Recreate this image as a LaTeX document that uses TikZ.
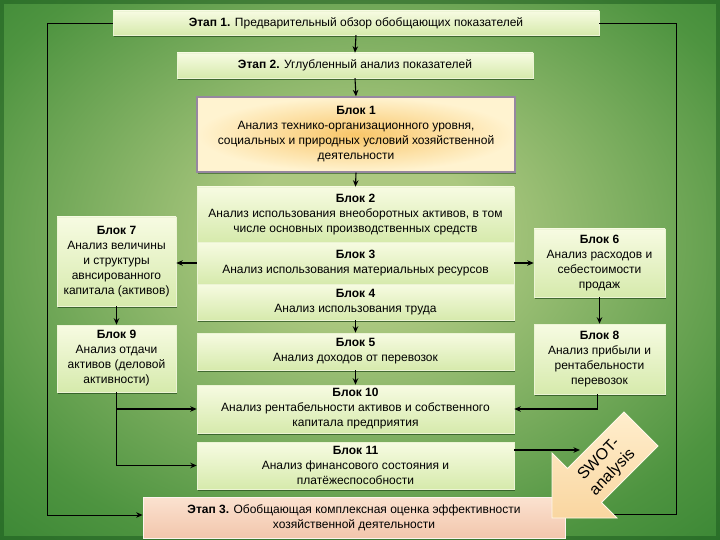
\documentclass[tikz,border=0pt]{standalone}
\usepackage{fontspec}
\setmainfont{Liberation Sans}
\usetikzlibrary{arrows.meta,shadows,calc}

\definecolor{bgin}{RGB}{172,200,128}
\definecolor{bgmid}{RGB}{78,148,64}
\definecolor{bgout}{RGB}{34,118,38}
\definecolor{gtop}{RGB}{247,251,226}
\definecolor{gbot}{RGB}{214,234,172}
\definecolor{gedge}{RGB}{236,244,212}
\definecolor{shadowc}{RGB}{40,80,30}
\definecolor{otop}{RGB}{249,198,105}
\definecolor{obot}{RGB}{255,243,208}
\definecolor{oedge}{RGB}{150,135,160}
\definecolor{ptop}{RGB}{251,226,208}
\definecolor{pbot}{RGB}{242,198,172}
\definecolor{swa}{RGB}{255,238,205}
\definecolor{swb}{RGB}{249,214,160}

\pgfdeclareradialshading{bgshade}{\pgfpoint{0bp}{4bp}}{color(0bp)=(bgin); color(8bp)=(bgin); color(30bp)=(bgmid); color(47bp)=(bgout); color(72bp)=(bgout)}

\tikzset{
  boxtxt/.style={font=\fontsize{12}{15}\selectfont},
  gbox/.style={rectangle, inner sep=1pt, align=center, boxtxt,
    top color=gtop, bottom color=gbot, draw=gedge, line width=0.5pt,
    drop shadow={shadow xshift=1.2pt, shadow yshift=-1.8pt, fill=shadowc, opacity=0.75}},
  obox/.style={rectangle, inner sep=1pt, align=center, boxtxt,
    inner color=otop, outer color=obot, draw=oedge, line width=1.3pt,
    drop shadow={shadow xshift=1.2pt, shadow yshift=-1.8pt, fill=shadowc, opacity=0.6}},
  pbox/.style={rectangle, inner sep=1pt, align=center, boxtxt,
    top color=ptop, bottom color=pbot, draw=white!80!pbot, line width=0.8pt},
  arr/.style={draw=black, line width=1.1pt, -{Stealth[length=6.5pt,width=5.5pt]}},
  frameline/.style={draw=black, line width=0.9pt},
}

\begin{document}
\begin{tikzpicture}[x=1pt,y=-1pt]
\useasboundingbox (0,0) rectangle (720,540);
\shade[shading=bgshade] (0,0) rectangle (720,540);
\draw[bgout!75!black, line width=4pt, opacity=0.5] (2,2) rectangle (718,538);

% stage boxes
\node[gbox, minimum width=486pt, minimum height=24pt] (e1) at (356,23)
  {\textbf{Этап 1.} Предварительный обзор обобщающих показателей};
\node[gbox, minimum width=356pt, minimum height=25pt] (e2) at (355,65.5)
  {\textbf{Этап 2.} Углубленный анализ показателей};
\node[obox, minimum width=318pt, minimum height=75pt] (b1) at (356,134.5)
  {\textbf{Блок 1}\\Анализ технико-организационного уровня,\\социальных и природных условий хозяйственной\\деятельности};

% central column
\node[gbox, minimum width=317pt, minimum height=55pt] (b2) at (355.5,214.5)
  {\textbf{Блок 2}\\Анализ использования внеоборотных активов, в том\\числе основных производственных средств};
\node[gbox, minimum width=317pt, minimum height=42pt] (b3) at (355.5,263)
  {\textbf{Блок 3}\\Анализ использования материальных ресурсов};
\node[gbox, minimum width=317pt, minimum height=36pt] (b4) at (355.5,302)
  {\textbf{Блок 4}\\Анализ использования труда};
\node[gbox, minimum width=317pt, minimum height=37pt] (b5) at (355.5,351.5)
  {\textbf{Блок 5}\\Анализ доходов от перевозок};
\node[gbox, minimum width=317pt, minimum height=48pt] (b10) at (355.5,409)
  {\textbf{Блок 10}\\Анализ рентабельности активов и собственного\\капитала предприятия};
\node[gbox, minimum width=317pt, minimum height=47pt] (b11) at (355.5,465.5)
  {\textbf{Блок 11}\\Анализ финансового состояния и\\платёжеспособности};

% side boxes
\node[gbox, minimum width=119pt, minimum height=89pt] (b7) at (116.5,261.5)
  {\textbf{Блок 7}\\Анализ величины\\и структуры\\авнсированного\\капитала (активов)};
\node[gbox, minimum width=119pt, minimum height=67pt] (b9) at (116.5,358.5)
  {\textbf{Блок 9}\\Анализ отдачи\\активов (деловой\\активности)};
\node[gbox, minimum width=131pt, minimum height=68pt] (b6) at (599.5,263)
  {\textbf{Блок 6}\\Анализ расходов и\\себестоимости\\продаж};
\node[gbox, minimum width=131pt, minimum height=70pt] (b8) at (599.5,359)
  {\textbf{Блок 8}\\Анализ прибыли и\\рентабельности\\перевозок};

% frame lines
\coordinate (fl) at (47,515);
\coordinate (fr) at (676,514);
\coordinate (swbot) at (612,514);
\coordinate (swin) at (580,450);

\draw[frameline] (e1.east) -| (fr) -- (swbot);

% stage 3
\node[pbox, minimum width=422pt, minimum height=41pt] (e3) at (354,517.5)
  {\textbf{Этап 3.} Обобщающая комплексная оценка  эффективности\\хозяйственной деятельности};

\draw[frameline, arr, line width=0.9pt] (e1.west) -| (fl) -- (fl -| e3.west);

% SWOT arrow
\shade[top color=swa, bottom color=swb, draw=white!60!swa, line width=0.8pt]
  (624,412) -- (658,446) -- (601.5,502.5) -- (617,518) -- (552,518)
  -- (552,453) -- (567.5,468.5) -- cycle;
\node[rotate=46, align=center, font=\fontsize{16}{19}\selectfont, inner sep=0pt] (swot) at (606,466)
  {SWOT-\\analysis};

% connectors
\draw[arr] (e1.south) -- (e2.north);
\draw[arr] (e2.south) -- (b1.north);
\draw[arr] (b1.south) -- (b2.north);
\draw[arr] (b4.south) -- (b5.north);
\draw[arr] (b5.south) -- (b10.north);
\draw[arr] (b3.west) -- (b3.west -| b7.east);
\draw[arr] (b3.east) -- (b3.east -| b6.west);
\draw[arr] (b7.south) -- (b9.north);
\draw[arr] (b6.south) -- (b8.north);
\draw[arr] (b9.south) |- (b11.west);
\draw[arr] (b9.south |- b10.west) -- (b10.west);
\draw[arr] ([xshift=-2pt]b8.south) |- (b10.east);
\draw[arr] (b11.east |- swin) -- (swin);
\end{tikzpicture}
\end{document}
